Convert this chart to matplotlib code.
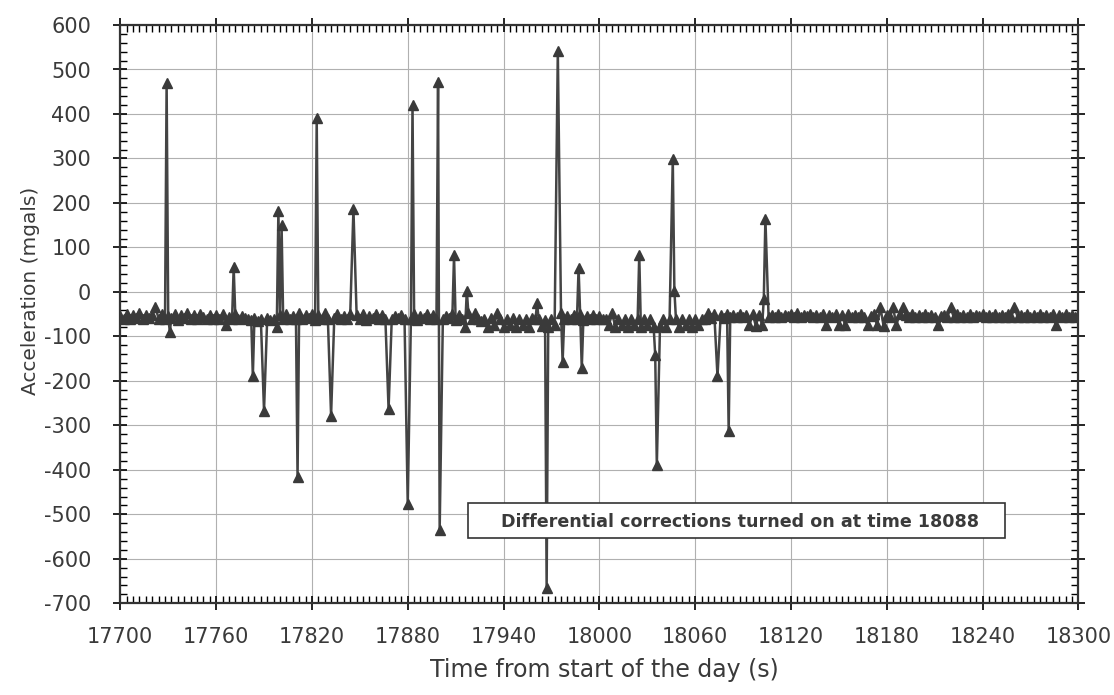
import numpy as np
import matplotlib.pyplot as plt
from matplotlib.ticker import MultipleLocator
from matplotlib.patches import Rectangle

plt.rcParams['font.family'] = ['DejaVu Sans']
plt.rcParams['axes.unicode_minus'] = False

# baseline samples every 2 s from 17700 to 18300
base_start = 17700
base_step = 2
base_values = [
    -55, -60, -50, -62, -52, -58, -48, -61, -53, -59,
    -52, -35, -60, -50, -62, -55, -58, -50, -63, -52,
    -58, -48, -62, -52, -60, -50, -57, -62, -51, -60,
    -53, -62, -49, -75, -56, -60, -50, -62, -54, -58,
    -60, -64, -58, -66, -60, -65, -59, -64, -61, -58,
    -52, -62, -50, -60, -55, -61, -48, -62, -53, -59,
    -50, -63, -52, -60, -48, -62, -55, -58, -50, -61,
    -54, -60, -49, -62, -52, -60, -50, -63, -55, -58,
    -50, -62, -53, -60, -48, -61, -55, -59, -51, -62,
    -52, -60, -50, -63, -55, -58, -49, -62, -53, -60,
    -51, -62, -54, -59, -50, -63, -52, -60, -78, -48,
    -62, -48, -60, -65, -60, -78, -58, -75, -48, -62,
    -78, -60, -75, -58, -78, -62, -75, -60, -78, -58,
    -62, -60, -76, -64, -78, -60, -75, -62, -48, -60,
    -55, -62, -52, -60, -50, -63, -55, -60, -52, -62,
    -55, -60, -62, -75, -48, -78, -60, -75, -62, -78,
    -60, -75, -62, -78, -60, -75, -62, -78, -60, -76,
    -62, -78, -60, -75, -62, -78, -60, -75, -62, -78,
    -60, -75, -62, -60, -48, -58, -50, -56, -52, -58,
    -50, -56, -52, -57, -49, -56, -52, -75, -50, -76,
    -52, -75, -50, -57, -52, -56, -50, -57, -52, -55,
    -50, -56, -48, -57, -52, -55, -50, -56, -52, -57,
    -50, -75, -52, -56, -50, -75, -52, -75, -50, -56,
    -52, -57, -50, -56, -75, -55, -50, -75, -35, -76,
    -52, -56, -35, -75, -50, -35, -52, -56, -50, -57,
    -52, -56, -50, -57, -52, -56, -75, -55, -52, -56,
    -35, -57, -50, -56, -52, -57, -50, -56, -52, -55,
    -50, -56, -52, -57, -50, -56, -52, -57, -50, -56,
    -35, -56, -52, -57, -50, -56, -52, -57, -50, -56,
    -52, -57, -50, -75, -52, -56, -50, -57, -52, -56,
    -52,
]

# spikes before differential corrections
spike_times = [17729, 17731, 17771, 17783, 17790, 17798, 17799, 17801, 17811,
               17823, 17832, 17846, 17868, 17880, 17883, 17899, 17900, 17909,
               17917, 17961, 17967, 17974, 17977, 17987, 17989, 18025, 18035,
               18036, 18046, 18047, 18074, 18081, 18103, 18104]
spike_values = [470, -90, 55, -190, -267, -78, 183, 150, -416,
                390, -278, 186, -263, -476, 420, 473, -535, 82,
                3, -26, -665, 541, -158, 53, -172, 84, -142,
                -390, 298, 3, -190, -313, -15, 165]

series = {base_start + base_step * i: v for i, v in enumerate(base_values)}
for t, v in zip(spike_times, spike_values):
    series[t] = v
times = np.array(sorted(series))
accel = np.array([series[t] for t in times])

fig = plt.figure(figsize=(11.14, 6.95), dpi=100)
ax = fig.add_axes([0.108, 0.132, 0.860, 0.832])

ax.plot(times, accel, '-^', color='#444444', lw=1.8, ms=7,
        mfc='#3a3a3a', mec='#3a3a3a', zorder=3)

ax.set_xlim(17700, 18300)
ax.set_ylim(-700, 600)
ax.xaxis.set_major_locator(MultipleLocator(60))
ax.xaxis.set_minor_locator(MultipleLocator(4))
ax.yaxis.set_major_locator(MultipleLocator(100))
ax.yaxis.set_minor_locator(MultipleLocator(20))
ax.grid(True, which='major', color='#b0b0b0', lw=0.8)
ax.tick_params(which='major', direction='inout', length=10, width=1.2,
               top=True, right=True, labelsize=15, labelcolor='#3a3a3a')
ax.tick_params(axis='x', which='major', pad=12)
ax.tick_params(axis='y', which='major', pad=16)
ax.tick_params(which='minor', direction='in', length=5, width=1,
               top=True, right=True)
for s in ax.spines.values():
    s.set_linewidth(1.6)
    s.set_color('#333333')

ax.set_xlabel('Time from start of the day (s)', fontsize=17, color='#3a3a3a')
ax.set_ylabel('Acceleration (mgals)', fontsize=14.5, color='#3a3a3a')
ax.xaxis.set_label_coords(0.505, -0.095)
ax.yaxis.set_label_coords(-0.084, 0.54)

# annotation box
ax.add_patch(Rectangle((17918, -554), 336, 79, facecolor='white',
                       edgecolor='#333333', lw=1.2, zorder=5))
ax.text(18088, -517, 'Differential corrections turned on at time 18088',
        ha='center', va='center', fontsize=12.6, fontweight='bold',
        color='#3a3a3a', zorder=6)

fig.savefig('out.png', dpi=100)
